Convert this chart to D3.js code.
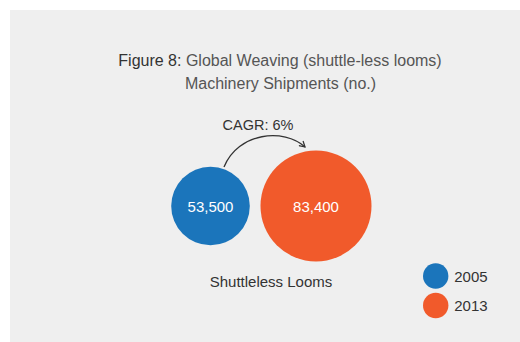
<!DOCTYPE html>
<html><head><meta charset="utf-8">
<script src="https://cdn.jsdelivr.net/npm/d3@7"></script>
<style>html,body{margin:0;padding:0;background:#fff;}svg{display:block;}</style>
</head><body>
<script>
const years = ["2005", "2013"];
const values = [53500, 83400];
const valueLabels = ["53,500", "83,400"];
const colors = ["#1b75bb", "#f15a2b"];
const categoryLabel = "Shuttleless Looms";
const growthLabel = "CAGR: 6%";

const W = 520, H = 342;
const svg = d3.select("body").append("svg").attr("width", W).attr("height", H);
const font = "'Liberation Sans', Arial, Helvetica, sans-serif";

svg.append("rect").attr("x", 10).attr("y", 10).attr("width", W - 10).attr("height", H - 10).attr("fill", "#efefef");

const title = svg.append("text").attr("x", 280).attr("y", 66).attr("text-anchor", "middle")
  .style("font-family", font).style("font-size", "16px").attr("fill", "#555");
title.append("tspan").attr("fill", "#333").text("Figure 8:");
title.append("tspan").text(" Global Weaving (shuttle-less looms)");
svg.append("text").attr("x", 280.5).attr("y", 89).attr("text-anchor", "middle")
  .style("font-family", font).style("font-size", "16px").attr("fill", "#555")
  .text("Machinery Shipments (no.)");

const r = d3.scaleLinear().domain([values[0], values[1]]).range([39.3, 55.5]);
const x = d3.scaleOrdinal().domain(years).range([210.5, 316]);
const cy = 206;

svg.selectAll("circle.bub").data(values).join("circle").attr("class", "bub")
  .attr("cx", (d, i) => x(years[i])).attr("cy", cy).attr("r", d => r(d))
  .attr("fill", (d, i) => colors[i]);

svg.selectAll("text.val").data(valueLabels).join("text").attr("class", "val")
  .attr("x", (d, i) => x(years[i])).attr("y", cy + 6).attr("text-anchor", "middle")
  .style("font-family", font).style("font-size", "15px").attr("fill", "#fff").text(d => d);

// arrow
svg.append("defs").append("marker").attr("id", "ah").attr("viewBox", "0 0 10 10")
  .attr("refX", 8).attr("refY", 5).attr("markerWidth", 6).attr("markerHeight", 6)
  .attr("orient", "auto").append("path").attr("d", "M1,1 L8,5 L1,9").attr("fill", "none")
  .attr("stroke", "#333").attr("stroke-width", 1.6);
svg.append("path").attr("d", "M224,167 C238,132 284,128 305,147")
  .attr("fill", "none").attr("stroke", "#333").attr("stroke-width", 1.3).attr("marker-end", "url(#ah)");

svg.append("text").attr("x", 258).attr("y", 130).attr("text-anchor", "middle")
  .style("font-family", font).style("font-size", "14.5px").attr("fill", "#333").text(growthLabel);

svg.append("text").attr("x", 271).attr("y", 287).attr("text-anchor", "middle")
  .style("font-family", font).style("font-size", "15px").attr("fill", "#333").text(categoryLabel);

const lg = svg.selectAll("g.lg").data(years).join("g").attr("class", "lg")
  .attr("transform", (d, i) => `translate(435.7,${276 + i * 29.5})`);
lg.append("circle").attr("r", 12.7).attr("fill", (d, i) => colors[i]);
lg.append("text").attr("x", 18.5).attr("y", 5.5).style("font-family", font).style("font-size", "15px")
  .attr("fill", "#333").text(d => d);
</script>
</body></html>
